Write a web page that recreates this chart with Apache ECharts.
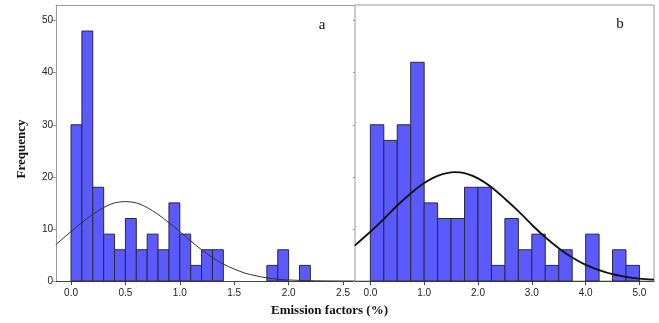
<!DOCTYPE html>
<html>
<head>
<meta charset="utf-8">
<script src="https://cdn.jsdelivr.net/npm/echarts@6/dist/echarts.min.js"></script>
<style>
  html, body { margin: 0; padding: 0; background: #fff; }
  #chart { width: 659px; height: 323px; }
</style>
</head>
<body>
<div id="chart"></div>
<script>
// panel a: bins of 0.1 from 0.0
const binWidthA = 0.1;
const countsA = [30, 48, 18, 9, 6, 12, 6, 9, 6, 15, 9, 3, 6, 6, 0, 0, 0, 0, 3, 6, 0, 3];
// panel b: bins of 0.25 from 0.0
const binWidthB = 0.25;
const countsB = [30, 27, 30, 42, 15, 12, 12, 18, 18, 3, 12, 6, 9, 3, 6, 0, 9, 0, 6, 3];

// fitted curves
const curveXA = [-0.14, -0.1, 0.0, 0.1, 0.2, 0.3, 0.4, 0.5, 0.6, 0.7, 0.8, 0.9, 1.0, 1.1, 1.2, 1.3, 1.4, 1.5, 1.6, 1.7, 1.8, 1.9, 2.0, 2.2, 2.4, 2.61];
const curveYA = [7.0, 7.7, 9.5, 11.2, 12.8, 14.1, 15.0, 15.25, 15.0, 14.1, 12.8, 11.2, 9.5, 7.7, 6.0, 4.5, 3.25, 2.3, 1.5, 1.0, 0.6, 0.35, 0.2, 0.06, 0.01, 0];
const curveXB = [-0.29, 0.0, 0.25, 0.5, 0.75, 1.0, 1.25, 1.57, 1.75, 2.0, 2.25, 2.5, 2.75, 3.0, 3.25, 3.5, 3.75, 4.0, 4.25, 4.5, 4.75, 5.0, 5.27];
const curveYB = [6.8, 9.45, 11.9, 14.5, 16.8, 18.8, 20.2, 20.9, 20.7, 19.7, 18.0, 15.8, 13.4, 10.8, 8.4, 6.3, 4.5, 3.1, 2.1, 1.3, 0.8, 0.47, 0.25];

const xTicksA = [0, 0.5, 1.0, 1.5, 2.0, 2.5];
const xTicksB = [0, 1, 2, 3, 4, 5];

function histData(counts, w) {
  const out = [];
  counts.forEach((c, i) => {
    if (c > 0) out.push([i * w, (i + 1) * w, c]);
  });
  return out;
}

function zipXY(xs, ys) {
  return xs.map((x, i) => [x, ys[i]]);
}

function renderBar(params, api) {
  const p0 = api.coord([api.value(0), api.value(2)]);
  const p1 = api.coord([api.value(1), 0]);
  return {
    type: 'rect',
    shape: { x: p0[0], y: p0[1], width: p1[0] - p0[0], height: p1[1] - p0[1] },
    style: { fill: '#5a5aff', stroke: '#2a2a3a', lineWidth: 1 }
  };
}

const chart = echarts.init(document.getElementById('chart'));

function xAxisOf(idx, min, max, ticks) {
  return {
    type: 'value', gridIndex: idx, min: min, max: max,
    axisLine: { show: true, onZero: false, lineStyle: { color: '#444', width: 1 } },
    axisTick: { show: true, customValues: ticks, length: 4, lineStyle: { color: '#444' } },
    axisLabel: {
      customValues: ticks, margin: 7, color: '#222', fontSize: 10,
      fontFamily: 'Liberation Sans', formatter: v => v.toFixed(1)
    },
    splitLine: { show: false }
  };
}

function yAxisOf(idx, labels) {
  return {
    type: 'value', gridIndex: idx, min: 0, max: 53, interval: 10,
    axisLine: { show: labels, onZero: false, lineStyle: { color: '#999' } },
    axisTick: { show: true, length: labels ? 4 : 2, lineStyle: { color: '#999' } },
    axisLabel: { show: labels, margin: 3, color: '#222', fontSize: 10, fontFamily: 'Liberation Sans',
      showMaxLabel: false },
    splitLine: { show: false }
  };
}

chart.setOption({
  animation: false,
  grid: [
    { left: 56, top: 5, width: 299, height: 276, show: false },
    { left: 355, top: 5, width: 299, height: 276, show: true, borderColor: '#999', borderWidth: 1 }
  ],
  xAxis: [
    xAxisOf(0, -0.138, 2.61, xTicksA),
    xAxisOf(1, -0.285, 5.27, xTicksB),
    {
      // top frame line of panel a
      type: 'value', gridIndex: 0, position: 'top', min: 0, max: 1,
      axisLine: { show: true, onZero: false, lineStyle: { color: '#999' } },
      axisTick: { show: false }, axisLabel: { show: false }, splitLine: { show: false }
    }
  ],
  yAxis: [yAxisOf(0, true), yAxisOf(1, false)],
  series: [
    {
      type: 'custom', xAxisIndex: 0, yAxisIndex: 0,
      renderItem: renderBar, encode: { x: [0, 1], y: 2 },
      data: histData(countsA, binWidthA), z: 2
    },
    {
      type: 'custom', xAxisIndex: 1, yAxisIndex: 1,
      renderItem: renderBar, encode: { x: [0, 1], y: 2 },
      data: histData(countsB, binWidthB), z: 2
    },
    {
      type: 'line', xAxisIndex: 0, yAxisIndex: 0, data: zipXY(curveXA, curveYA),
      smooth: 0.3, showSymbol: false, z: 3,
      lineStyle: { color: '#333', width: 1 }
    },
    {
      type: 'line', xAxisIndex: 1, yAxisIndex: 1, data: zipXY(curveXB, curveYB),
      smooth: 0.3, showSymbol: false, z: 3,
      lineStyle: { color: '#111', width: 1.8 }
    }
  ],
  graphic: [
    {
      type: 'text', left: 'center', x: 0, top: 304,
      style: { text: 'Emission factors (%)', font: 'bold 13px "Liberation Serif"', fill: '#111' }
    },
    {
      type: 'text', x: 22, y: 149, rotation: Math.PI / 2,
      style: { text: 'Frequency', font: 'bold 13px "Liberation Serif"', fill: '#111',
        align: 'center', verticalAlign: 'middle' }
    },
    {
      type: 'text', x: 322, y: 25,
      style: { text: 'a', font: '15px "Liberation Serif"', fill: '#111', align: 'center', verticalAlign: 'middle' }
    },
    {
      type: 'text', x: 620, y: 24,
      style: { text: 'b', font: '15px "Liberation Serif"', fill: '#111', align: 'center', verticalAlign: 'middle' }
    }
  ]
});
</script>
</body>
</html>
